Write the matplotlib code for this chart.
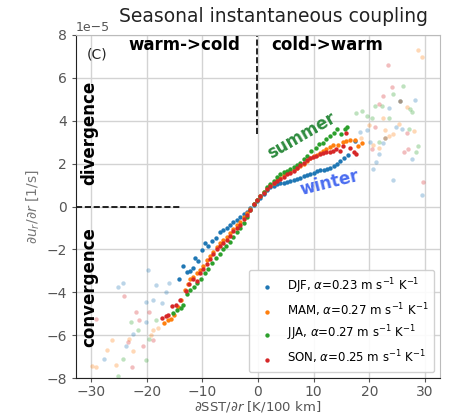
import numpy as np
import matplotlib
matplotlib.use("Agg")
import matplotlib.pyplot as plt

# binned values, y in units of 1e-5 1/s
djf_x = [-14.2, -13.5, -12.8, -12.2, -11.7, -11.3, -10.7, -10.1, -9.5, -9.0, -8.3, -7.6, -6.8, -6.2, -5.6, -5.0,
         -4.4, -3.8, -3.2, -2.6, -2.0, -1.4, -0.8, -0.2, 0.4, 1.0, 1.6, 2.2, 2.8, 3.4, 4.0, 4.6, 5.2, 5.8, 6.4,
         7.0, 7.6, 8.2, 8.8, 9.4, 10.0, 10.6, 11.2, 11.8, 12.4, 13.0, 13.6, 14.2, 14.8, 15.5, 16.2, 17.4]
djf_y = [-3.37, -2.75, -3.05, -3.0, -2.85, -2.4, -2.55, -2.04, -1.7, -1.85, -1.6, -1.45, -1.2, -1.1, -1.0, -0.84,
         -0.72, -0.62, -0.5, -0.36, -0.24, -0.08, 0.08, 0.25, 0.42, 0.6, 0.78, 0.9, 0.98, 1.04, 1.08, 1.12, 1.16,
         1.2, 1.25, 1.3, 1.35, 1.42, 1.47, 1.5, 1.58, 1.65, 1.7, 1.72, 1.75, 1.8, 1.9, 2.0, 2.12, 2.28, 2.42, 3.05]

mam_x = [-16.8, -16.2, -15.6, -15.0, -14.4, -13.8, -13.2, -12.6, -12.2, -11.6, -11.0, -10.4, -9.8, -9.2, -8.6,
         -8.0, -7.4, -6.8, -6.2, -5.6, -5.0, -4.4, -3.8, -3.2, -2.6, -2.0, -1.4, -0.8, -0.2, 0.4, 1.0, 1.6, 2.2,
         2.8, 3.4, 4.0, 4.6, 5.2, 5.8, 6.4, 7.0, 7.5, 8.2, 8.8, 9.4, 10.0, 10.6, 11.1, 11.7, 12.3, 12.9, 13.5,
         14.4, 15.2, 15.9, 16.6, 17.4, 18.0, 18.6]
mam_y = [-5.43, -5.3, -5.24, -5.05, -4.7, -4.35, -3.9, -3.6, -3.4, -3.3, -3.1, -2.94, -2.75, -2.5, -2.3, -2.1,
         -1.88, -1.72, -1.55, -1.4, -1.22, -1.05, -0.88, -0.7, -0.5, -0.32, -0.1, 0.1, 0.3, 0.5, 0.68, 0.85, 1.0,
         1.12, 1.25, 1.35, 1.45, 1.55, 1.62, 1.72, 1.8, 1.88, 2.0, 2.12, 2.25, 2.35, 2.42, 2.5, 2.6, 2.7, 2.78,
         2.85, 2.89, 3.0, 3.05, 3.1, 3.12, 2.8, 2.97]

jja_x = [-15.3, -14.6, -13.9, -13.5, -12.8, -12.2, -11.5, -10.9, -10.3, -9.6, -8.9, -8.2, -7.5, -6.9, -6.3, -5.7,
         -5.0, -4.4, -3.8, -3.2, -2.6, -2.0, -1.4, -0.8, -0.2, 0.4, 1.0, 1.6, 2.2, 2.8, 3.4, 4.0, 4.6, 5.2, 5.8,
         6.4, 7.0, 7.6, 8.2, 8.8, 9.6, 10.4, 11.0, 11.6, 12.3, 12.9, 13.6, 14.2, 14.9, 15.6, 16.0]
jja_y = [-4.96, -4.8, -4.75, -4.6, -4.1, -3.87, -3.75, -3.55, -3.4, -3.1, -2.9, -2.62, -2.38, -2.2, -2.0, -1.85,
         -1.66, -1.42, -1.2, -1.0, -0.75, -0.5, -0.18, 0.1, 0.3, 0.5, 0.7, 0.9, 1.05, 1.2, 1.38, 1.5, 1.6, 1.68,
         1.75, 1.85, 1.95, 2.05, 2.2, 2.35, 2.58, 2.72, 2.9, 2.98, 3.15, 3.28, 3.45, 3.6, 3.4, 3.6, 3.7]

son_x = [-17.2, -16.6, -16.2, -15.5, -14.7, -14.1, -12.9, -12.4, -11.6, -11.0, -10.4, -9.8, -9.2, -8.6, -8.0,
         -7.4, -6.8, -6.2, -5.6, -5.0, -4.4, -3.8, -3.2, -2.6, -2.0, -1.4, -0.8, -0.2, 0.4, 1.0, 1.6, 2.2, 2.8,
         3.4, 4.0, 4.6, 5.2, 5.8, 6.4, 7.0, 7.6, 8.2, 8.8, 9.3, 9.9, 10.5, 11.1, 11.7, 12.3, 12.9, 13.5, 14.1,
         14.7, 15.3, 15.9, 16.5, 17.2, 17.7]
son_y = [-5.2, -5.1, -5.05, -4.65, -4.57, -4.34, -3.95, -3.6, -3.37, -3.45, -3.1, -2.9, -2.7, -2.45, -2.2, -2.0,
         -1.85, -1.7, -1.54, -1.35, -1.15, -1.0, -0.84, -0.6, -0.4, -0.15, 0.1, 0.3, 0.48, 0.65, 0.8, 0.95, 1.08,
         1.2, 1.3, 1.4, 1.5, 1.58, 1.68, 1.8, 1.92, 2.05, 2.15, 2.27, 2.3, 2.35, 2.45, 2.5, 2.52, 2.55, 2.6, 2.66,
         2.58, 2.8, 3.44, 2.75, 2.55, 2.45]

# sparse bins (few samples), drawn faded
djf_fx = [-19.8, -25.2, -24.3, -18.4, -16.6, -15.9, -20.1, -18.9, -17.2, -20.2, -22.5, -23.7, -27.6,
          18.3, 19.5, 23.6, 28.2, 25.6, 24.8, 25.9, 22.4, 20.1, 21.8, 27.6, 21.2, 20.6, 24.3, 29.4]
djf_fy = [-2.97, -3.75, -3.56, -3.64, -4.0, -3.56, -4.46, -4.34, -4.5, -5.4, -5.92, -6.52, -7.1,
          3.47, 3.56, 4.6, 4.96, 4.91, 3.72, 3.6, 2.97, 3.0, 2.43, 2.22, 2.07, 1.73, 1.26, 0.56]
mam_fx = [-18.0, -18.9, -23.1, -26.2, -27.2, -22.5, -25.6, -29.8, -29.1, -19.2,
          28.8, 29.4, 26.7, 22.4, 25.4, 28.1, 24.3, 20.0, 22.8, 21.8, 20.6, 23.6, 18.5]
mam_fy = [-5.66, -5.74, -6.17, -6.24, -6.67, -6.75, -7.37, -7.42, -7.46, -6.0,
          7.32, 6.98, 4.65, 4.14, 3.87, 3.53, 3.4, 3.78, 3.59, 2.75, 2.86, 3.3, 3.2]
jja_fx = [-22.8, -18.4, -21.6, -19.6, -24.3, -20.2, -25.2,
          26.0, 24.3, 21.0, 22.2, 27.3, 27.6, 17.6, 18.7, 19.5, 20.4, 23.6, 27.2, 21.8, 22.8, 28.8, 28.4, 25.6]
jja_fy = [-5.4, -5.27, -5.77, -6.17, -7.1, -7.14, -7.88,
          5.64, 5.27, 4.68, 4.68, 4.53, 4.43, 4.37, 4.46, 4.21, 4.14, 4.14, 3.62, 3.0, 3.2, 2.81, 2.55, 4.91]
son_fx = [-24.0, -22.0, -21.3, -29.1, -19.5, -18.9, -23.4, -20.7, -22.7,
          23.4, 24.0, 22.4, 21.8, 25.6, 21.0, 26.8, 20.4, 22.8, 27.0, 26.2, 29.7]
son_fy = [-4.18, -4.9, -5.27, -5.22, -4.93, -6.2, -6.33, -6.52, -7.48,
          6.58, 5.58, 5.14, 4.76, 4.91, 3.69, 3.45, 2.66, 3.2, 2.66, 2.55, 1.13]

labels = [r"DJF, $\alpha$=0.23 m s$^{-1}$ K$^{-1}$",
          r"MAM, $\alpha$=0.27 m s$^{-1}$ K$^{-1}$",
          r"JJA, $\alpha$=0.27 m s$^{-1}$ K$^{-1}$",
          r"SON, $\alpha$=0.25 m s$^{-1}$ K$^{-1}$"]
colors = ["tab:blue", "tab:orange", "tab:green", "tab:red"]
solid = [(djf_x, djf_y), (mam_x, mam_y), (jja_x, jja_y), (son_x, son_y)]
faded = [(djf_fx, djf_fy), (mam_fx, mam_fy), (jja_fx, jja_fy), (son_fx, son_fy)]

fig = plt.figure(figsize=(4.55, 4.16), dpi=100)
ax = fig.add_axes([0.167, 0.091, 0.8, 0.825])

for (fx, fy), c in zip(faded, colors):
    ax.scatter(fx, np.array(fy) * 1e-5, s=10, color=c, alpha=0.3, lw=0)
for (x, y), c, lab in zip(solid, colors, labels):
    ax.scatter(x, np.array(y) * 1e-5, s=10, color=c, lw=0, label=lab)

ax.set_xlim(-32.7, 32.7)
ax.set_ylim(-8e-5, 8e-5)
ax.set_xticks([-30, -20, -10, 0, 10, 20, 30])
ax.set_yticks(np.arange(-8, 9, 2) * 1e-5)
ax.grid(True, color="#d3d3d3", lw=1)
ax.set_axisbelow(True)
ax.tick_params(colors="#555555", labelsize=10, length=3)
ax.tick_params(axis="x", pad=2)
ax.yaxis.get_offset_text().set_color("#555555")
ax.yaxis.get_offset_text().set_fontsize(9)
for s in ["left", "bottom"]:
    ax.spines[s].set_color("#222222")
for s in ["top", "right"]:
    ax.spines[s].set_color("#bbbbbb")

ax.set_xlabel(r"$\partial$SST/$\partial r$ [K/100 km]", color="#555555", fontsize=9.5, labelpad=0)
ax.set_ylabel(r"$\partial u_r/\partial r$ [1/s]", color="#777777", fontsize=10)

# annotations
ax.axvline(-0.2, ymin=0.71, ymax=1, color="k", ls="--", lw=1.2)
ax.plot([-32.7, -14], [0, 0], color="k", ls="--", lw=1.2)
ax.text(-29, 7.1e-5, "(C)", fontsize=10, ha="center", va="center", color="#222222")
ax.text(-13.3, 7.55e-5, "warm->cold", fontsize=12, fontweight="bold", ha="center", va="center")
ax.text(12.4, 7.55e-5, "cold->warm", fontsize=12, fontweight="bold", ha="center", va="center")
ax.text(-30.3, 3.45e-5, "divergence", fontsize=12, fontweight="bold", rotation=90, ha="center", va="center")
ax.text(-30.3, -3.75e-5, "convergence", fontsize=12, fontweight="bold", rotation=90, ha="center", va="center")
ax.text(7.9, 3.3e-5, "summer", fontsize=12, fontweight="bold", rotation=30, color="#2e8b3e",
        ha="center", va="center")
ax.text(12.9, 1.1e-5, "winter", fontsize=12, fontweight="bold", rotation=14, color="#4a6cf0",
        ha="center", va="center")

ax.legend(loc="lower right", fontsize=8.5, labelspacing=0.45, handletextpad=0.7, borderpad=0.5,
          scatterpoints=1, framealpha=0.9)

fig.text(0.602, 0.96, "Seasonal instantaneous coupling", fontsize=13.5, ha="center", va="center",
         color="#222222")

fig.savefig("out.png", dpi=100)
